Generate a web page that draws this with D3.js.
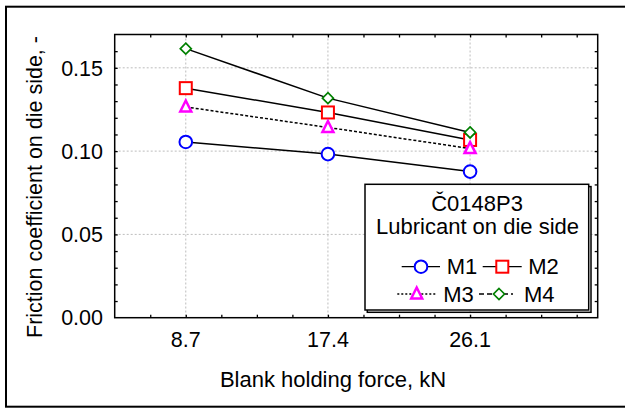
<!DOCTYPE html>
<html><head><meta charset="utf-8">
<script src="https://cdn.jsdelivr.net/npm/d3@7"></script>
<style>
html,body{margin:0;padding:0;background:#fff;}
text{font-family:"Liberation Sans",Arial,sans-serif;fill:#000;}
</style></head>
<body><svg id="c" width="625" height="408"></svg>
<script>
const forces = [8.7, 17.4, 26.1];
const xTickLabels = ["8.7", "17.4", "26.1"];
const yTickValues = [0.00, 0.05, 0.10, 0.15];
const yTickLabels = ["0.00", "0.05", "0.10", "0.15"];
const seriesNames = ["M1", "M2", "M3", "M4"];
const m1 = [0.1055, 0.0982, 0.0877];
const m2 = [0.1378, 0.1232, 0.1067];
const m3 = [0.1265, 0.1142, 0.1015];
const m4 = [0.1615, 0.1318, 0.1112];
const legendTitle = ["Č0148P3", "Lubricant on die side"];
const xTitle = "Blank holding force, kN";
const yTitle = "Friction coefficient on die side, -";

const svg = d3.select("#c");
const L = 114.7, R = 597.7, T = 34.5, B = 317.7;
const x = d3.scaleLinear().domain([4.35, 33.91]).range([L, R]);
const y = d3.scaleLinear().domain([0, 0.17]).range([B, T]);

// outer frame (right side clipped)
svg.append("rect").attr("x", 6).attr("y", 6.7).attr("width", 640).attr("height", 400)
  .attr("fill", "none").attr("stroke", "#000").attr("stroke-width", 2);

// grid
const g = svg.append("g");
yTickValues.filter(v => v > 0).forEach(v => {
  g.append("line").attr("x1", L).attr("x2", R).attr("y1", y(v)).attr("y2", y(v))
    .attr("stroke", "#bdbdbd").attr("stroke-width", 1).attr("stroke-dasharray", "2,2");
});
forces.forEach(v => {
  g.append("line").attr("x1", x(v)).attr("x2", x(v)).attr("y1", T).attr("y2", B)
    .attr("stroke", "#bdbdbd").attr("stroke-width", 1).attr("stroke-dasharray", "2,2");
});

// minor/major ticks via axes (inward)
const xt = d3.range(4.35 + 2.175, 33.91, 2.175);
const yt = d3.range(0.01, 0.17, 0.01);
svg.append("g").attr("transform", `translate(0,${B})`)
  .call(d3.axisTop(x).tickValues(xt).tickSize(3).tickFormat(""))
  .call(s => s.select(".domain").remove());
svg.append("g").attr("transform", `translate(0,${T})`)
  .call(d3.axisBottom(x).tickValues(xt).tickSize(3).tickFormat(""))
  .call(s => s.select(".domain").remove());
svg.append("g").attr("transform", `translate(${L},0)`)
  .call(d3.axisRight(y).tickValues(yt).tickSize(3).tickFormat(""))
  .call(s => s.select(".domain").remove());
svg.append("g").attr("transform", `translate(${R},0)`)
  .call(d3.axisLeft(y).tickValues(yt).tickSize(3).tickFormat(""))
  .call(s => s.select(".domain").remove());
svg.selectAll(".tick line").attr("stroke-width", 1.3);

// frame of plot
svg.append("rect").attr("x", L).attr("y", T).attr("width", R - L).attr("height", B - T)
  .attr("fill", "none").attr("stroke", "#000").attr("stroke-width", 1.5);

// tick labels
yTickValues.forEach((v, i) => {
  svg.append("text").attr("x", 103).attr("y", y(v)).attr("dy", "0.36em")
    .attr("text-anchor", "end").attr("font-size", 21.5).text(yTickLabels[i]);
});
forces.forEach((v, i) => {
  svg.append("text").attr("x", x(v)).attr("y", 346.7)
    .attr("text-anchor", "middle").attr("font-size", 21.5).text(xTickLabels[i]);
});

// axis titles
svg.append("text").attr("x", 333).attr("y", 387).attr("text-anchor", "middle")
  .attr("font-size", 22).text(xTitle);
svg.append("text").attr("transform", "translate(41.5,187) rotate(-90)")
  .attr("text-anchor", "middle").attr("font-size", 21.5).text(yTitle);

// series
const series = [
  {name: seriesNames[0], vals: m1, color: "#0000ff", shape: "circle", dash: null},
  {name: seriesNames[1], vals: m2, color: "#ff0000", shape: "square", dash: null},
  {name: seriesNames[2], vals: m3, color: "#ff00ff", shape: "triangle", dash: "3,2"},
  {name: seriesNames[3], vals: m4, color: "#008000", shape: "diamond", dash: null}
];
const line = d3.line().x(d => x(d[0])).y(d => y(d[1]));

function marker(sel, shape, color) {
  if (shape === "circle") {
    sel.append("circle").attr("r", 6.3).attr("fill", "#fff").attr("stroke", color).attr("stroke-width", 2);
  } else if (shape === "square") {
    sel.append("rect").attr("x", -6).attr("y", -6).attr("width", 12).attr("height", 12)
      .attr("fill", "#fff").attr("stroke", color).attr("stroke-width", 2);
  } else if (shape === "triangle") {
    sel.append("path").attr("d", "M0,-6.5L5.5,4.5L-5.5,4.5Z")
      .attr("fill", "#fff").attr("stroke", color).attr("stroke-width", 2.5);
  } else {
    sel.append("path").attr("d", "M0,-5.5L5.5,0L0,5.5L-5.5,0Z")
      .attr("fill", "#fff").attr("stroke", color).attr("stroke-width", 1.7);
  }
}

series.forEach(s => {
  const pts = forces.map((f, i) => [f, s.vals[i]]);
  svg.append("path").attr("d", line(pts)).attr("fill", "none")
    .attr("stroke", "#000").attr("stroke-width", 1.5)
    .attr("stroke-dasharray", s.dash);
});
series.forEach(s => {
  forces.forEach((f, i) => {
    const gm = svg.append("g").attr("transform", `translate(${x(f)},${y(s.vals[i])})`);
    marker(gm, s.shape, s.color);
  });
});

// legend
const lg = svg.append("g");
lg.append("rect").attr("x", 367.3).attr("y", 186.6).attr("width", 223.7).attr("height", 125.7)
  .attr("fill", "none").attr("stroke", "#000").attr("stroke-width", 1.5);
lg.append("rect").attr("x", 365).attr("y", 184.3).attr("width", 223.7).attr("height", 125.7)
  .attr("fill", "#fff").attr("stroke", "#000").attr("stroke-width", 1.5);
lg.append("text").attr("x", 477).attr("y", 210.5).attr("text-anchor", "middle")
  .attr("font-size", 22).text(legendTitle[0]);
lg.append("text").attr("x", 477.5).attr("y", 233.5).attr("text-anchor", "middle")
  .attr("font-size", 22).text(legendTitle[1]);
const legPos = [
  {x1: 401.7, x2: 440, mx: 421, cy: 266.7, tx: 446.7, dash: null},
  {x1: 482.7, x2: 521.7, mx: 502.3, cy: 266.7, tx: 528.3, dash: null},
  {x1: 397.3, x2: 436.7, mx: 416.7, cy: 294, tx: 443.3, dash: "2,2"},
  {x1: 479, x2: 513, mx: 499, cy: 294, tx: 524, dash: "5,3"}
];
series.forEach((s, i) => {
  const p = legPos[i];
  lg.append("line").attr("x1", p.x1).attr("x2", p.x2).attr("y1", p.cy).attr("y2", p.cy)
    .attr("stroke", "#000").attr("stroke-width", 1.3).attr("stroke-dasharray", p.dash);
  const gm = lg.append("g").attr("transform", `translate(${p.mx},${p.cy})`);
  marker(gm, s.shape, s.color);
  lg.append("text").attr("x", p.tx).attr("y", p.cy + 7.5).attr("font-size", 22).text(s.name);
});
</script></body></html>
